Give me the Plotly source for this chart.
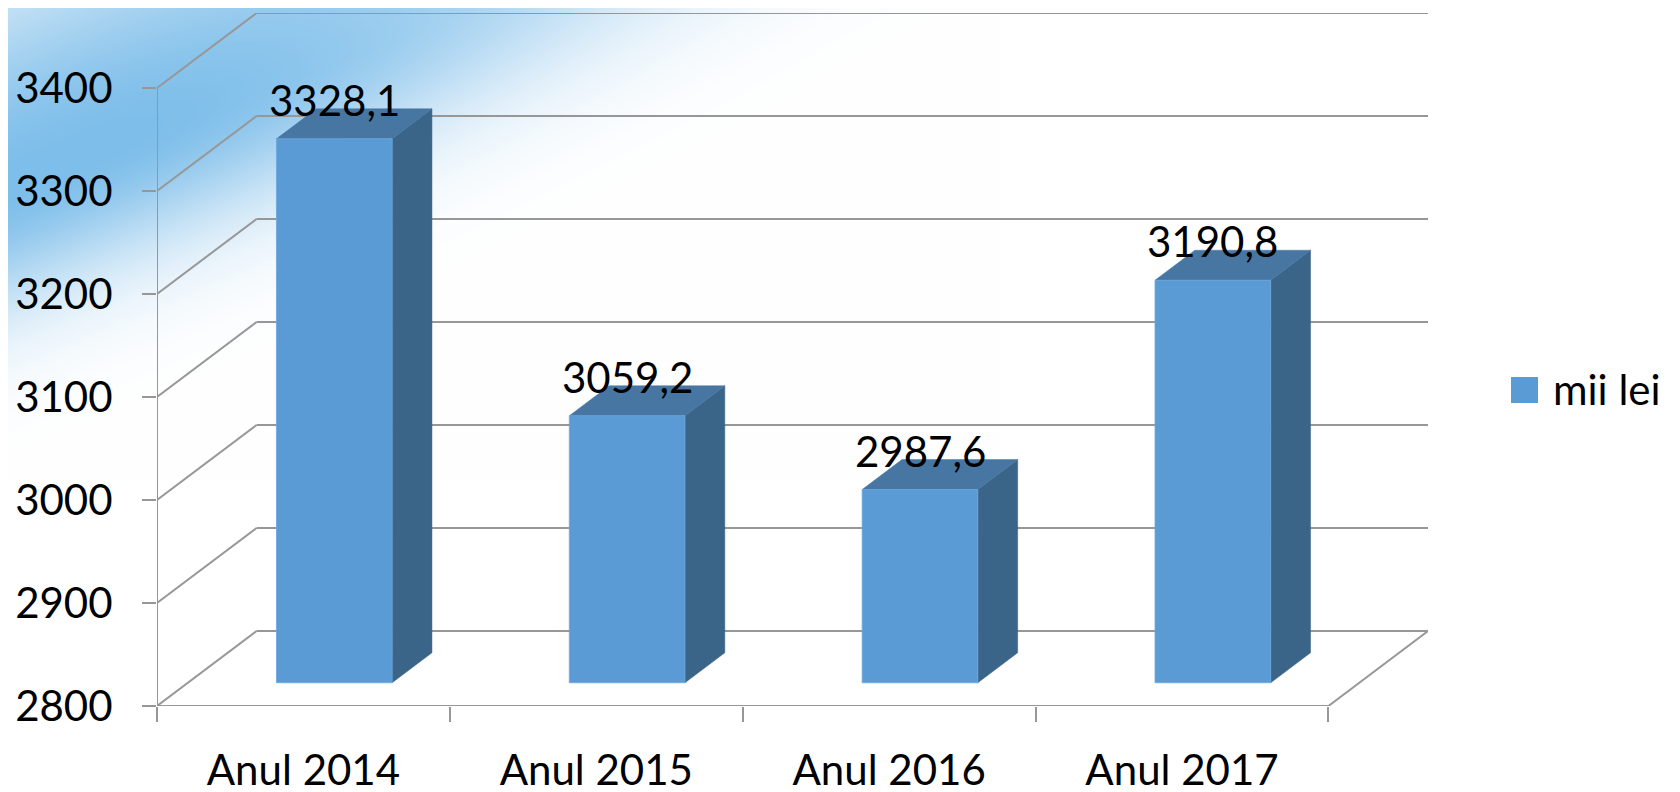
import base64
import struct
import zlib

import numpy as np
import plotly.graph_objects as go

# ---------------- data ----------------
categories = ["Anul 2014", "Anul 2015", "Anul 2016", "Anul 2017"]
values = [3328.1, 3059.2, 2987.6, 3190.8]
value_labels = ["3328,1", "3059,2", "2987,6", "3190,8"]
y_ticks = [2800, 2900, 3000, 3100, 3200, 3300, 3400]
y_tick_labels = ["2800", "2900", "3000", "3100", "3200", "3300", "3400"]
series_name = "mii lei"

# ---------------- style / projection ----------------
FONT = "Lato"
FS = 42
GRID = "#979797"
FRONT_C = "#5b9bd5"
SIDE_C = "#3b6489"
TOP_C = "#4776a3"

Y0, Y1 = y_ticks[0], y_ticks[-1]
DX = 0.340      # depth shift, category units
DY = 72.8       # depth shift, value units
F0, F1 = 0.31, 0.71   # bar front / back depth fractions
BW = 0.395      # bar width, category units

W, H = 1680, 792
OFF = 8.0       # page body margin
# plot area in page pixels
L, R, T, B = 157.0, 1428.0, 13.0, 706.0
n = len(categories)
X_RANGE = [-0.5, n - 0.5 + DX]
Y_RANGE = [Y0, Y1 + DY]
PW, PH = R - L, B - T


def px2x(px):
    return (px - L) / PW


def py2y(py):
    return (B - py) / PH


# ---------------- background glow (decoration) ----------------
def glow_png(w, h, scale):
    ys, xs = np.mgrid[0:h, 0:w].astype(float)
    X = xs * scale
    Y = ys * scale
    ox, oy = 0.0, 190.0
    ux, uy = 0.922, -0.387
    nx, ny = 0.387, 0.922
    t = (X - ox) * ux + (Y - oy) * uy
    d = (X - ox) * nx + (Y - oy) * ny
    sig = np.where(d > 0, 110.0, 190.0)
    inten = np.exp(-(d / sig) ** 2) * np.exp(-(np.maximum(t - 100, 0) / 620.0) ** 2)
    peak = np.array([125.0, 190.0, 234.0])
    rgb = 255.0 - (255.0 - peak) * inten[..., None]
    img = np.clip(rgb, 0, 255).astype(np.uint8)
    raw = b"".join(b"\x00" + row.tobytes() for row in img)

    def chunk(tag, data):
        return (struct.pack(">I", len(data)) + tag + data
                + struct.pack(">I", zlib.crc32(tag + data) & 0xFFFFFFFF))

    png = (b"\x89PNG\r\n\x1a\n"
           + chunk(b"IHDR", struct.pack(">IIBBBBB", w, h, 8, 2, 0, 0, 0))
           + chunk(b"IDAT", zlib.compress(raw, 9))
           + chunk(b"IEND", b""))
    return "data:image/png;base64," + base64.b64encode(png).decode()


GW, GH = 1000, 480
glow_src = glow_png(GW // 2, GH // 2, 2.0)

# ---------------- frame lines ----------------
x0, x1 = -0.5, n - 0.5
gx, gy = [], []
for v in y_ticks:
    # back wall gridline
    gx += [x0 + DX, x1 + DX, None]
    gy += [v + DY, v + DY, None]
    # side wall diagonal
    gx += [x0, x0 + DX, None]
    gy += [v, v + DY, None]
# front vertical axis
gx += [x0, x0, None]
gy += [Y0, Y1, None]
# floor front edge and right diagonal
gx += [x0, x1, x1 + DX, None]
gy += [Y0, Y0, Y0 + DY, None]

fig = go.Figure()
fig.add_trace(go.Scatter(x=gx, y=gy, mode="lines",
                         line=dict(color=GRID, width=2),
                         hoverinfo="skip", showlegend=False))

# ---------------- bars ----------------
for i, v in enumerate(values):
    xl = i - BW / 2
    xr = i + BW / 2
    fx, fy = F0 * DX, F0 * DY
    bx, by = F1 * DX, F1 * DY
    # side face
    fig.add_trace(go.Scatter(
        x=[xr + fx, xr + bx, xr + bx, xr + fx, xr + fx],
        y=[Y0 + fy, Y0 + by, v + by, v + fy, Y0 + fy],
        fill="toself", fillcolor=SIDE_C, mode="lines",
        line=dict(color=SIDE_C, width=0.5),
        hoverinfo="skip", showlegend=False))
    # top face
    fig.add_trace(go.Scatter(
        x=[xl + fx, xr + fx, xr + bx, xl + bx, xl + fx],
        y=[v + fy, v + fy, v + by, v + by, v + fy],
        fill="toself", fillcolor=TOP_C, mode="lines",
        line=dict(color=TOP_C, width=0.5),
        hoverinfo="skip", showlegend=False))
    # front face
    fig.add_trace(go.Scatter(
        x=[xl + fx, xr + fx, xr + fx, xl + fx, xl + fx],
        y=[Y0 + fy, Y0 + fy, v + fy, v + fy, Y0 + fy],
        fill="toself", fillcolor=FRONT_C, mode="lines",
        line=dict(color="#6aa6db", width=0.8),
        name=series_name, hoverinfo="skip", showlegend=False))

# dummy trace for the tick-mark axis
fig.add_trace(go.Scatter(x=[x0], y=[Y0], xaxis="x2", mode="markers",
                         marker=dict(opacity=0), hoverinfo="skip",
                         showlegend=False))

annotations = []
for i, (v, lab) in enumerate(zip(values, value_labels)):
    annotations.append(dict(
        x=i + F0 * DX, y=v + F1 * DY, xref="x", yref="y",
        text=lab, showarrow=False, yanchor="middle", xanchor="center",
        yshift=9, font=dict(family=FONT, size=FS, color="black")))

# legend (drawn)
annotations.append(dict(
    x=px2x(1551), y=py2y(389), xref="paper", yref="paper",
    text=series_name, showarrow=False, xanchor="left", yanchor="middle",
    font=dict(family=FONT, size=FS, color="black")))
shapes = [dict(type="rect", xref="paper", yref="paper",
               x0=px2x(1511), x1=px2x(1538), y0=py2y(403), y1=py2y(377),
               fillcolor=FRONT_C, line=dict(width=0))]

fig.update_layout(
    width=W, height=H,
    margin=dict(l=L - OFF, r=W - (R - OFF), t=T - OFF, b=H - (B - OFF),
                pad=0, autoexpand=False),
    paper_bgcolor="white", plot_bgcolor="rgba(0,0,0,0)",
    showlegend=False,
    font=dict(family=FONT, size=FS, color="black"),
    xaxis=dict(range=X_RANGE, tickvals=list(range(n)), ticktext=categories,
               ticks="", showgrid=False, zeroline=False, showline=False,
               automargin=False, ticklabelstandoff=36,
               tickfont=dict(family=FONT, size=FS, color="black")),
    xaxis2=dict(range=X_RANGE, overlaying="x", anchor="y", side="bottom",
                tickvals=[x0 + k for k in range(n + 1)], ticks="outside",
                ticklen=15, tickwidth=2, tickcolor=GRID, automargin=False,
                showticklabels=False, showgrid=False, zeroline=False,
                showline=False),
    yaxis=dict(range=Y_RANGE, tickvals=y_ticks, ticktext=y_tick_labels,
               ticks="outside", ticklen=14, tickwidth=2, tickcolor=GRID,
               showgrid=False, zeroline=False, showline=False,
               automargin=False, ticklabelstandoff=21,
               tickfont=dict(family=FONT, size=FS, color="black")),
    annotations=annotations,
    shapes=shapes,
    images=[dict(source=glow_src, xref="paper", yref="paper",
                 x=px2x(0), y=py2y(0), sizex=GW / PW, sizey=GH / PH,
                 xanchor="left", yanchor="top", sizing="stretch",
                 layer="below")],
)

fig.write_html("out.html")
